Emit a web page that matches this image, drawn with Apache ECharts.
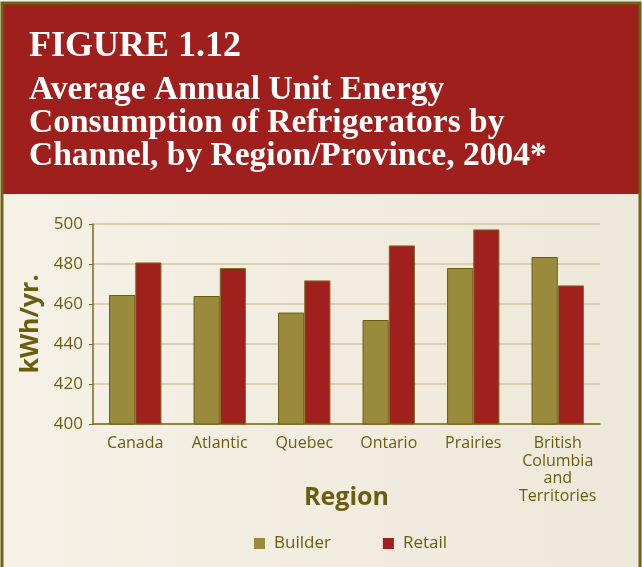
<!DOCTYPE html>
<html>
<head>
<meta charset="utf-8">
<script src="https://cdn.jsdelivr.net/npm/echarts@6/dist/echarts.min.js"></script>
<style>
  html, body { margin: 0; padding: 0; background: #f3efe3; }
  #chart { width: 642px; height: 567px; }
</style>
</head>
<body>
<div id="chart"></div>
<script>
// data
const regions = ['Canada', 'Atlantic', 'Quebec', 'Ontario', 'Prairies', 'British\nColumbia\nand\nTerritories']
const builder = [464.5, 464, 455.7, 452, 478, 483.5]
const retail = [480.8, 478, 471.8, 489.3, 497.3, 469.3]
const seriesNames = ['Builder', 'Retail']

const OLIVE = '#9a8a3c'
const RED = '#a0201d'
const TEXT = '#6b5d10'

const chart = echarts.init(document.getElementById('chart'), null, {renderer: 'canvas'})

chart.setOption({
  animation: false,
  backgroundColor: {
    type: 'linear', x: 0, y: 0, x2: 1, y2: 0,
    colorStops: [{offset: 0, color: '#f5f1e6'}, {offset: 1, color: '#eee8da'}]
  },
  graphic: [
    // red header
    {
      type: 'rect', z: -10,
      shape: {x: 3, y: 4, width: 636, height: 190},
      style: {fill: '#9e1f1c'}
    },
    // olive frame
    {
      type: 'rect', z: -9,
      shape: {x: 2, y: 3, width: 638, height: 570},
      style: {fill: 'none', stroke: '#6f6414', lineWidth: 3}
    },
    {
      type: 'text', left: 29, top: 29,
      style: {
        text: 'FIGURE 1.12',
        fill: '#fff',
        font: 'bold 36px "Liberation Serif"'
      }
    },
    {
      type: 'text', left: 29, top: 73,
      style: {
        text: 'Average Annual Unit Energy\nConsumption of Refrigerators by\nChannel, by Region/Province, 2004*',
        fill: '#fff',
        font: 'bold 33.5px "Liberation Serif"',
        lineHeight: 33
      }
    }
  ],
  color: [OLIVE, RED],
  legend: {
    data: seriesNames,
    top: 530,
    left: 249,
    itemWidth: 11,
    itemHeight: 11,
    itemGap: 52,
    icon: 'rect',
    itemStyle: {borderWidth: 0},
    textStyle: {color: TEXT, fontSize: 17, fontFamily: 'Open Sans', padding: [0, 0, 0, 4]}
  },
  grid: {left: 93, right: 42, top: 224, bottom: 143},
  xAxis: {
    type: 'category',
    data: regions,
    name: 'Region',
    nameLocation: 'middle',
    nameGap: 61,
    nameMoveOverlap: false,
    nameTextStyle: {color: TEXT, fontSize: 25, fontWeight: 'bold', fontFamily: 'Open Sans'},
    axisLine: {lineStyle: {color: '#7a6a1e', width: 1.5}},
    axisTick: {lineStyle: {color: '#7a6a1e'}, length: 4},
    axisLabel: {
      color: TEXT, fontSize: 16, fontFamily: 'Open Sans', lineHeight: 17.5,
      margin: 11, interval: 0
    }
  },
  yAxis: {
    type: 'value',
    min: 400,
    max: 500,
    interval: 20,
    name: 'kWh/yr.',
    nameLocation: 'middle',
    nameGap: 47,
    nameTextStyle: {color: TEXT, fontSize: 25, fontWeight: 'bold', fontFamily: 'Open Sans'},
    axisLine: {show: true, lineStyle: {color: '#7a6a1e', width: 1.5}},
    axisTick: {show: true, inside: false, length: 4, lineStyle: {color: '#7a6a1e'}},
    axisLabel: {color: TEXT, fontSize: 17, fontFamily: 'Open Sans', margin: 10},
    splitLine: {lineStyle: {color: '#d2c7a4', width: 1.5}}
  },
  series: [
    {
      name: seriesNames[0],
      type: 'bar',
      data: builder,
      barGap: '0%',
      barCategoryGap: '38%',
      itemStyle: {color: OLIVE, borderColor: '#6b5d10', borderWidth: 1}
    },
    {
      name: seriesNames[1],
      type: 'bar',
      data: retail,
      itemStyle: {color: RED, borderColor: '#7d6f20', borderWidth: 1}
    }
  ]
})
</script>
</body>
</html>
